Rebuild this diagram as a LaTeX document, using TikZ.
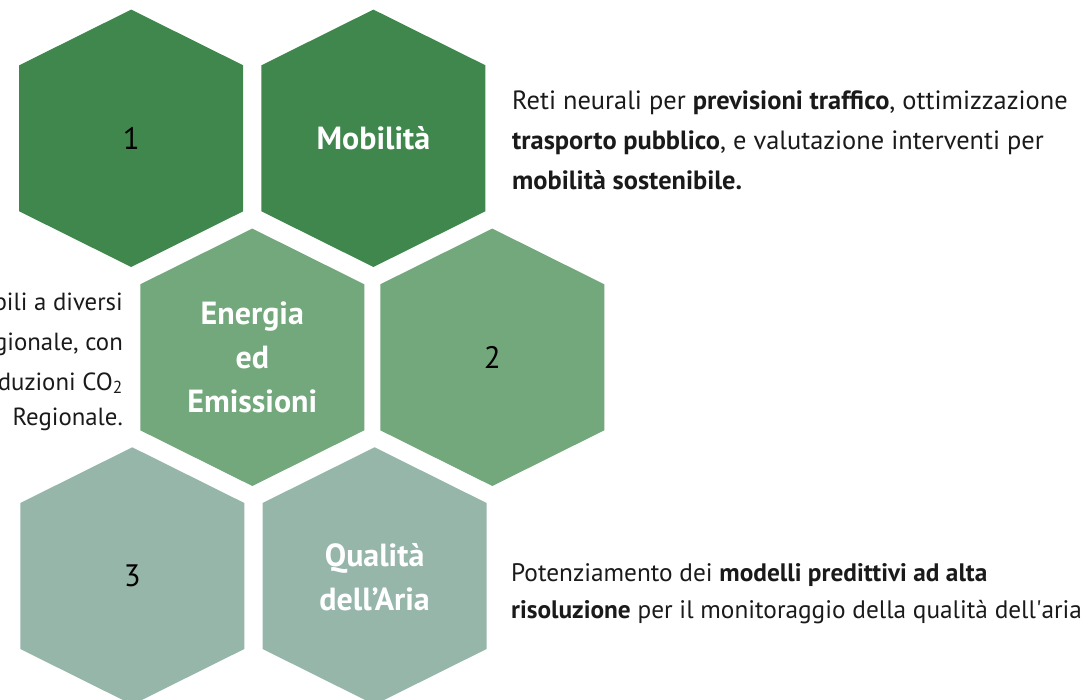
\documentclass[tikz,border=0pt]{standalone}
\usepackage{fontspec}
\setmainfont{PT Sans}
\definecolor{hexdark}{HTML}{3F874D}
\definecolor{hexmid}{HTML}{72A87B}
\definecolor{hexlight}{HTML}{96B6AA}
\definecolor{txt}{HTML}{1A1A1A}
\tikzset{
  hexa/.pic={\fill (0,-128.7) -- (112,-73) -- (112,73) -- (0,128.7) -- (-112,73) -- (-112,-73) -- cycle;},
  hexnum/.style={font=\fontsize{31}{36}\selectfont, text=black, inner sep=0pt},
  hexlabel/.style={font=\fontsize{32}{44}\selectfont\bfseries, text=white, align=center, inner sep=0pt},
  desc/.style={font=\fontsize{26.4}{40}\selectfont, text=txt, inner sep=0pt},
  descb/.style={font=\fontsize{25.3}{40}\selectfont, text=txt, inner sep=0pt},
  descl/.style={font=\fontsize{24.8}{40}\selectfont, text=txt, inner sep=0pt}
}
\begin{document}
\begin{tikzpicture}[x=1pt,y=-1pt]
\useasboundingbox (0,0) rectangle (1089,700);
\clip (0,0) rectangle (1089,700);
% hexagon centres
\coordinate (h1) at (131.2,138.3);
\coordinate (hmob) at (373.4,138.3);
\coordinate (hen) at (252.3,357.3);
\coordinate (h2) at (492.3,357.3);
\coordinate (h3) at (132.3,576);
\coordinate (hqa) at (374.6,576);
% hexagons
\pic[fill=hexdark] at (h1) {hexa};
\pic[fill=hexdark] at (hmob) {hexa};
\pic[fill=hexmid] at (hen) {hexa};
\pic[fill=hexmid] at (h2) {hexa};
\pic[fill=hexlight] at (h3) {hexa};
\pic[fill=hexlight] at (hqa) {hexa};
% hexagon texts
\node[hexnum] (n1) at (h1) {1};
\node[hexlabel] (lmob) at (hmob) {Mobilità};
\node[hexlabel] (len) at (hen) {Energia\\ed\\Emissioni};
\node[hexnum] (n2) at (h2) {2};
\node[hexnum] (n3) at (h3) {3};
\node[hexlabel] (lqa) at ([yshift=-1pt]hqa) {Qualità\\dell’Aria};
% right text, Mobilità
\node[desc, anchor=base west] (m1) at (512,110) {Reti neurali per \textbf{previsioni traffico}, ottimizzazione};
\node[desc, anchor=base west] (m2) at (512,150) {\textbf{trasporto pubblico}, e valutazione interventi per};
\node[desc, anchor=base west] (m3) at (512,190) {\textbf{mobilità sostenibile.}};
% left text, Energia (cut by the left border)
\node[descl, anchor=base east] (e1) at (123,311) {bili a diversi};
\node[descl, anchor=base east] (e2) at (123,350) {gionale, con};
\node[descl, anchor=base east] (e3) at (123,390) {duzioni CO\textsubscript{2}};
\node[descl, anchor=base east] (e4) at (123,425) {Regionale.};
% right text, Qualità dell'Aria
\node[descb, anchor=base west] (q1) at (511,581) {Potenziamento dei \textbf{modelli predittivi ad alta}};
\node[descb, anchor=base west] (q2) at (511,618) {\textbf{risoluzione} per il monitoraggio della qualità dell\textquotesingle aria};
\end{tikzpicture}
\end{document}
